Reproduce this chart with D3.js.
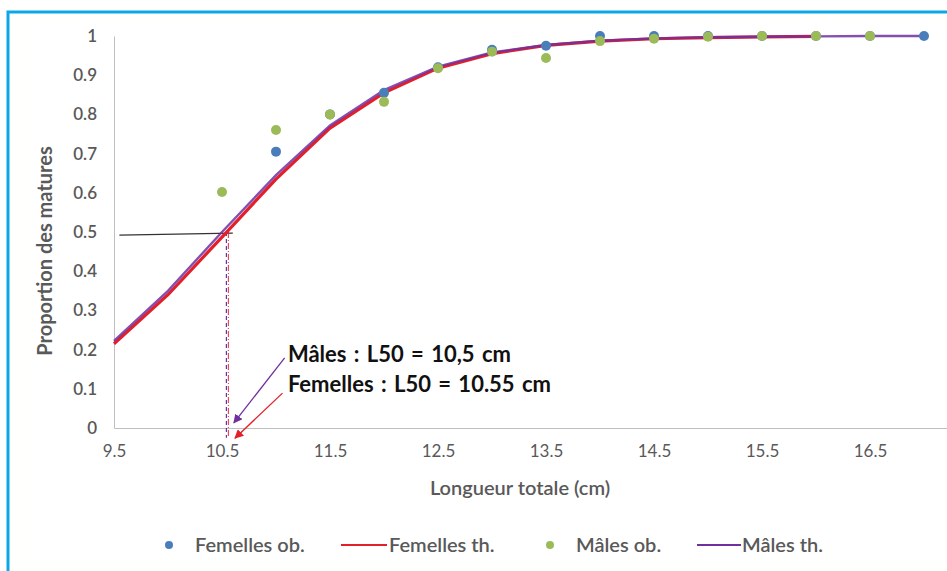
<!DOCTYPE html>
<html><head><meta charset="utf-8">
<script src="https://cdn.jsdelivr.net/npm/d3@7"></script>
<style>
body{margin:0;background:#fff;overflow:hidden;}
text{font-family:Lato,"Open Sans",sans-serif;}
</style></head>
<body><svg id="c" width="947" height="571" style="display:block"></svg>
<script>
// ---- data ----
const lengths = [9.5,10,10.5,11,11.5,12,12.5,13,13.5,14,14.5,15,15.5,16,16.5,17];
const femObsX = [11,11.5,12,12.5,13,13.5,14,14.5,15,15.5,16,16.5,17];
const femObs  = [0.705,0.80,0.855,0.92,0.965,0.975,1.0,1.0,1.0,1.0,1.0,1.0,1.0];
const malObsX = [10.5,11,11.5,12,12.5,13,13.5,14,14.5,15,15.5,16,16.5];
const malObs  = [0.602,0.76,0.80,0.832,0.918,0.96,0.944,0.987,0.993,0.998,1.0,1.0,1.0];
const femTh   = [0.215,0.34,0.487,0.635,0.765,0.855,0.918,0.955,0.976,0.987,0.993,0.996,0.998,0.999];
const malTh   = [0.222,0.35,0.50,0.645,0.772,0.862,0.922,0.958,0.977,0.988,0.994,0.997,0.998,0.999,1.0,1.0];
const xTicks  = [9.5,10.5,11.5,12.5,13.5,14.5,15.5,16.5];
const yTicks  = [0,0.1,0.2,0.3,0.4,0.5,0.6,0.7,0.8,0.9,1];
const l50 = 10.55;
const legendItems = ["Femelles ob.","Femelles th.","Mâles ob.","Mâles th."];
const notes = ["Mâles : L50 = 10,5 cm","Femelles : L50 = 10.55 cm"];

const C = {blue:"#4a7ebb", green:"#9bbb59", red:"#e3202a", purple:"#7030a0", grey:"#595959"};
const svg = d3.select("#c");
const x = d3.scaleLinear().domain([9.5,17.5]).range([114,978]);
const y = d3.scaleLinear().domain([0,1]).range([428,36]);

// frame
svg.append("rect").attr("x",8).attr("y",12).attr("width",2000).attr("height",2000)
  .attr("fill","#fffffd").attr("stroke","#0aa8e6").attr("stroke-width",3);
svg.append("rect").attr("x",30).attr("y",20).attr("width",1000).attr("height",540).attr("fill","#fff");

// axes
const xa = svg.append("g").attr("transform",`translate(0,${y(0)})`)
  .call(d3.axisBottom(x).tickValues(xTicks).tickSize(0).tickPadding(17).tickFormat(d=>d));
xa.select(".domain").attr("stroke","#bfbfbf");
xa.selectAll("text").attr("fill",C.grey).attr("font-size",17).attr("font-weight",400);
const ya = svg.append("g").attr("transform",`translate(${x(9.5)},0)`)
  .call(d3.axisLeft(y).tickValues(yTicks).tickSize(0).tickPadding(17).tickFormat(d=>d));
ya.select(".domain").attr("stroke","#bfbfbf");
ya.selectAll("text").attr("fill",C.grey).attr("font-size",17).attr("font-weight",600);

svg.append("text").attr("x",520).attr("y",495).attr("text-anchor","middle")
  .attr("fill",C.grey).attr("font-size",20).attr("font-weight",600).text("Longueur totale (cm)");
svg.append("text").attr("transform","translate(52,251) rotate(-90)").attr("text-anchor","middle")
  .attr("fill",C.grey).attr("font-size",20).attr("font-weight",700).text("Proportion des matures");

// reference lines
svg.append("line").attr("x1",x(9.55)).attr("x2",x(10.6)).attr("y1",y(0.492)).attr("y2",y(0.497))
  .attr("stroke","#333").attr("stroke-width",1.2);
svg.append("line").attr("x1",x(l50)-1).attr("x2",x(l50)-1).attr("y1",y(0.5)).attr("y2",y(-0.025))
  .attr("stroke",C.purple).attr("stroke-width",1.2).attr("stroke-dasharray","4,3");
svg.append("line").attr("x1",x(l50)+1).attr("x2",x(l50)+1).attr("y1",y(0.5)).attr("y2",y(-0.025))
  .attr("stroke",C.red).attr("stroke-width",1.2).attr("stroke-dasharray","6,2,1,2").attr("opacity",0.8);

// theoretical curves
const line = d3.line().x((d,i)=>x(lengths[i])).y(d=>y(d));
svg.append("path").datum(femTh).attr("d",line).attr("fill","none").attr("stroke",C.red).attr("stroke-width",3.2);
svg.append("path").datum(malTh).attr("d",line).attr("fill","none").attr("stroke",C.purple).attr("stroke-width",2.4).attr("opacity",0.85);

// observed points
svg.append("g").selectAll("circle").data(femObs).join("circle")
  .attr("cx",(d,i)=>x(femObsX[i])).attr("cy",d=>y(d)).attr("r",5).attr("fill",C.blue);
svg.append("g").selectAll("circle").data(malObs).join("circle")
  .attr("cx",(d,i)=>x(malObsX[i])).attr("cy",d=>y(d)).attr("r",5).attr("fill",C.green);

// arrows
const defs = svg.append("defs");
[["ap",C.purple],["ar",C.red]].forEach(([id,col])=>{
  defs.append("marker").attr("id",id).attr("viewBox","0 0 10 10").attr("refX",9).attr("refY",5)
    .attr("markerWidth",7).attr("markerHeight",7).attr("orient","auto")
    .append("path").attr("d","M0,0L10,5L0,10z").attr("fill",col);
});
svg.append("line").attr("x1",x(11.08)).attr("y1",y(0.179)).attr("x2",x(10.61)).attr("y2",y(0.013))
  .attr("stroke",C.purple).attr("stroke-width",1.3).attr("marker-end","url(#ap)");
svg.append("line").attr("x1",x(11.06)).attr("y1",y(0.089)).attr("x2",x(10.62)).attr("y2",y(-0.026))
  .attr("stroke",C.red).attr("stroke-width",1.3).attr("marker-end","url(#ar)");

svg.append("text").attr("x",x(11.11)).attr("y",y(0.168)).attr("font-size",22).attr("font-weight",700)
  .attr("fill","#111").attr("word-spacing",2).text(notes[0]);
svg.append("text").attr("x",x(11.11)).attr("y",y(0.092)).attr("font-size",22).attr("font-weight",700)
  .attr("fill","#111").attr("word-spacing",2).text(notes[1]);

// legend
const lg = svg.append("g").attr("font-size",20).attr("font-weight",600).attr("fill",C.grey);
const ly = 545;
lg.append("circle").attr("cx",169).attr("cy",ly).attr("r",4).attr("fill",C.blue);
lg.append("text").attr("x",195).attr("y",ly+7).text(legendItems[0]);
lg.append("line").attr("x1",341).attr("x2",387).attr("y1",ly).attr("y2",ly).attr("stroke",C.red).attr("stroke-width",2);
lg.append("text").attr("x",389).attr("y",ly+7).text(legendItems[1]);
lg.append("circle").attr("cx",550).attr("cy",ly).attr("r",4).attr("fill",C.green);
lg.append("text").attr("x",576).attr("y",ly+7).text(legendItems[2]);
lg.append("line").attr("x1",697).attr("x2",741).attr("y1",ly).attr("y2",ly).attr("stroke",C.purple).attr("stroke-width",2);
lg.append("text").attr("x",742).attr("y",ly+7).text(legendItems[3]);
</script></body></html>
